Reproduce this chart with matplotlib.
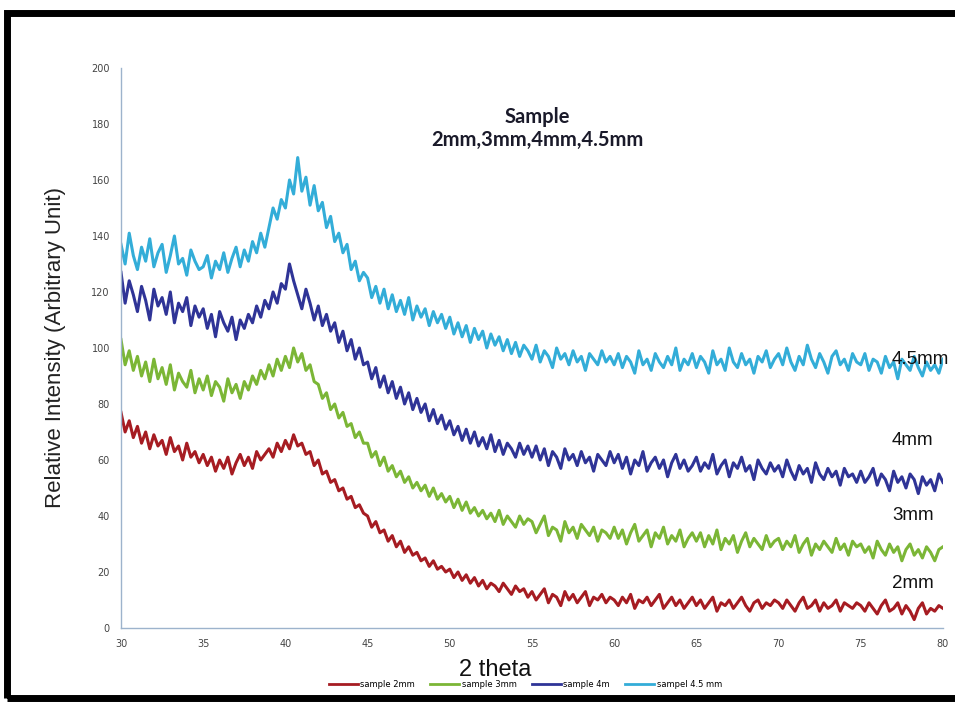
import matplotlib.pyplot as plt
import numpy as np
from matplotlib.patches import Rectangle

# 2-theta grid, 0.25 deg steps from 30 to 80
two_theta = np.arange(30, 80.01, 0.25)

# intensities (20 values per 5 degrees)
sample_2mm = [
    77, 70, 74, 68, 72, 66, 70, 64, 69, 65, 67, 62, 68, 63, 65, 60, 66, 61, 63, 59,
    62, 58, 61, 56, 60, 57, 61, 55, 59, 62, 58, 61, 57, 63, 60, 62, 64, 61, 66, 63,
    67, 64, 69, 65, 66, 62, 63, 58, 60, 55, 56, 52, 53, 49, 50, 46, 47, 43, 44, 41,
    40, 36, 38, 34, 35, 31, 33, 29, 31, 27, 29, 26, 27, 24, 25, 22, 24, 21, 22, 20,
    21, 18, 20, 17, 19, 16, 18, 15, 17, 14, 16, 15, 13, 16, 14, 12, 15, 13, 14, 11,
    13, 10, 12, 14, 9, 12, 11, 8, 13, 10, 12, 9, 11, 13, 8, 11, 10, 12, 9, 11,
    10, 8, 11, 9, 12, 7, 10, 9, 11, 8, 10, 12, 7, 9, 11, 8, 10, 7, 9, 11,
    8, 10, 7, 9, 11, 6, 9, 8, 10, 7, 9, 11, 8, 6, 9, 10, 7, 9, 8, 10,
    9, 7, 10, 8, 6, 9, 11, 7, 8, 10, 6, 9, 7, 8, 10, 6, 9, 8, 7, 9,
    8, 6, 9, 7, 5, 8, 10, 6, 7, 9, 5, 8, 6, 3, 7, 9, 5, 7, 6, 8,
    7,
]
sample_3mm = [
    103, 94, 99, 92, 97, 90, 95, 88, 96, 89, 93, 87, 94, 85, 91, 88, 86, 92, 84, 89,
    85, 90, 83, 88, 86, 81, 89, 84, 87, 82, 88, 85, 90, 87, 92, 89, 94, 90, 96, 92,
    97, 93, 100, 95, 98, 92, 94, 88, 87, 82, 84, 78, 80, 75, 77, 72, 73, 68, 70, 66,
    66, 61, 63, 58, 61, 56, 58, 54, 56, 52, 54, 50, 52, 49, 51, 47, 50, 46, 48, 45,
    47, 43, 46, 42, 45, 41, 43, 40, 42, 39, 41, 38, 42, 37, 40, 38, 36, 40, 37, 39,
    38, 34, 37, 40, 33, 36, 35, 31, 38, 34, 36, 32, 37, 35, 33, 36, 31, 35, 34, 32,
    36, 32, 35, 30, 34, 37, 31, 33, 35, 29, 34, 32, 36, 30, 33, 31, 35, 29, 32, 34,
    31, 34, 29, 33, 30, 35, 28, 32, 30, 33, 27, 31, 34, 29, 32, 30, 28, 33, 29, 31,
    32, 28, 31, 29, 33, 27, 30, 32, 26, 30, 28, 31, 29, 27, 32, 28, 30, 26, 31, 29,
    30, 27, 29, 25, 31, 28, 26, 30, 27, 29, 24, 28, 30, 26, 28, 25, 29, 27, 24, 28,
    29,
]
sample_4mm = [
    127, 116, 124, 119, 113, 122, 117, 110, 121, 115, 118, 112, 120, 109, 116, 113, 118, 108, 115, 111,
    114, 107, 112, 104, 113, 109, 106, 111, 103, 110, 107, 112, 109, 115, 111, 117, 114, 120, 116, 123,
    121, 130, 124, 119, 114, 121, 116, 110, 115, 108, 112, 106, 109, 102, 106, 99, 103, 96, 100, 94,
    95, 89, 93, 86, 90, 84, 88, 82, 86, 80, 84, 78, 82, 77, 80, 74, 78, 73, 76, 71,
    74, 69, 72, 67, 71, 66, 70, 65, 68, 64, 69, 63, 67, 62, 66, 64, 61, 66, 62, 65,
    61, 65, 60, 64, 58, 63, 61, 57, 64, 60, 62, 58, 63, 59, 61, 56, 62, 60, 58, 63,
    59, 62, 57, 61, 55, 60, 58, 63, 56, 59, 61, 57, 60, 54, 59, 62, 57, 60, 56, 58,
    61, 56, 59, 57, 62, 55, 58, 60, 54, 59, 57, 61, 56, 58, 53, 60, 57, 55, 59, 56,
    58, 54, 60, 56, 53, 58, 55, 57, 52, 59, 55, 53, 57, 54, 56, 51, 57, 54, 55, 52,
    56, 52, 54, 57, 51, 55, 53, 49, 56, 52, 54, 50, 55, 53, 48, 54, 51, 53, 49, 55,
    52,
]
sample_45mm = [
    137, 130, 141, 133, 128, 136, 131, 139, 129, 134, 137, 127, 133, 140, 130, 132, 126, 135, 131, 128,
    129, 133, 125, 131, 128, 134, 127, 132, 136, 129, 135, 131, 138, 134, 141, 136, 143, 150, 146, 153,
    150, 160, 155, 168, 156, 161, 151, 158, 149, 152, 143, 147, 138, 141, 134, 137, 128, 131, 124, 127,
    125, 118, 122, 116, 121, 114, 119, 113, 117, 112, 118, 110, 115, 111, 114, 108, 113, 109, 112, 107,
    111, 105, 109, 104, 108, 102, 107, 103, 106, 100, 105, 101, 104, 99, 103, 98, 102, 97, 101, 99,
    96, 101, 95, 99, 97, 93, 100, 96, 98, 94, 99, 95, 97, 92, 98, 96, 94, 99, 95, 97,
    94, 98, 93, 97, 95, 91, 99, 94, 96, 92, 98, 95, 93, 97, 94, 100, 92, 96, 94, 98,
    93, 97, 95, 91, 99, 94, 96, 92, 100, 95, 93, 98, 94, 96, 91, 97, 95, 99, 93, 96,
    98, 94, 100, 95, 92, 97, 94, 101, 96, 93, 98, 95, 91, 97, 99, 94, 96, 92, 98, 95,
    94, 98, 92, 96, 95, 91, 97, 93, 95, 89, 96, 94, 92, 97, 93, 90, 95, 92, 94, 91,
    96,
]

series = [sample_2mm, sample_3mm, sample_4mm, sample_45mm]
legend_names = ['sample 2mm', 'sample 3mm', 'sample 4m', 'sampel 4.5 mm']
colors = ['#A61C22', '#7BB636', '#2F3497', '#33ADD8']

end_labels = ['2mm', '3mm', '4mm', '4.5mm']
end_label_y = [16, 40, 67, 96]

fig = plt.figure(figsize=(9.55, 7.03), dpi=100)
ax = fig.add_axes([0.1267, 0.1067, 0.8607, 0.7966])

for vals, name, col in zip(series, legend_names, colors):
    ax.plot(two_theta, vals, color=col, lw=2.2, label=name)

ax.set_xlim(30, 80)
ax.set_ylim(0, 200)
ax.set_xticks(np.arange(30, 81, 5))
ax.set_yticks(np.arange(0, 201, 20))
ax.tick_params(length=0, labelsize=7, colors='#444444', pad=8)
for side in ['top', 'right']:
    ax.spines[side].set_visible(False)
for side in ['left', 'bottom']:
    ax.spines[side].set_color('#9DB3CC')
    ax.spines[side].set_linewidth(1.0)

ax.set_ylabel('Relative Intensity (Arbitrary Unit)', fontsize=16,
              family='Liberation Sans', color='#222222', labelpad=18)
ax.set_xlabel('2 theta', fontsize=17, family='Liberation Sans',
              color='#111111', labelpad=6)
ax.xaxis.set_label_coords(0.455, -0.055)

ax.text(0.506, 0.892, 'Sample\n2mm,3mm,4mm,4.5mm', transform=ax.transAxes,
        ha='center', va='center', fontsize=14.5, fontweight='bold',
        family='Lato', color='#1a1a2a', linespacing=1.15)

for lab, yv in zip(end_labels, end_label_y):
    ax.text(76.9, yv, lab, fontsize=13.5, family='Liberation Sans',
            color='#111111', va='center', ha='left', clip_on=False)

leg = fig.legend(loc='center', bbox_to_anchor=(0.55, 0.026), ncol=4,
                 frameon=False, fontsize=6, handlelength=3.5,
                 columnspacing=1.8, handletextpad=0.3)
for line in leg.get_lines():
    line.set_linewidth(2)

# black frame from the scan
fig.patches.append(Rectangle((0.007, 0.007), 1.05, 0.975, transform=fig.transFigure,
                             fill=False, edgecolor='black', lw=5))

fig.savefig('out.png', dpi=100)
